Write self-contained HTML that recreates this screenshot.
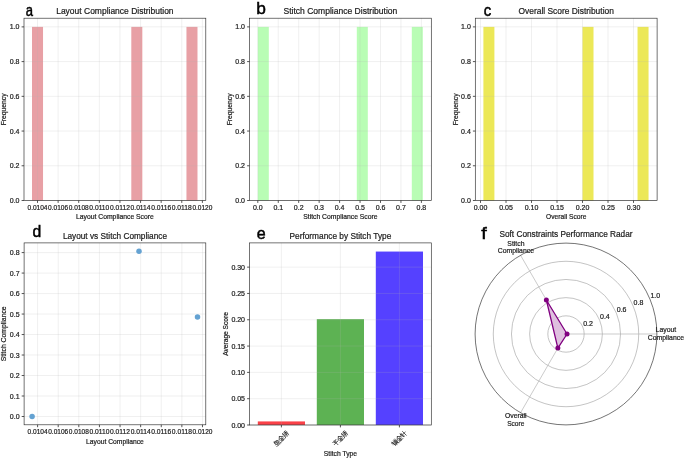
<!DOCTYPE html>
<html><head><meta charset="utf-8"><style>
html,body{margin:0;padding:0;background:#fff;width:685px;height:458px;overflow:hidden;}
svg{display:block;will-change:transform;font-family:"Liberation Sans", sans-serif;}
</style></head><body>
<svg width="685" height="458" viewBox="0 0 685 458" font-family='"Liberation Sans", sans-serif'><rect x="32" y="26.88" width="11.03" height="173.62" fill="#e8a0a5" />
<rect x="131.3" y="26.88" width="11.03" height="173.62" fill="#e8a0a5" />
<rect x="186.46" y="26.88" width="11.03" height="173.62" fill="#e8a0a5" />
<line x1="37.5" y1="18.2" x2="37.5" y2="200.5" stroke="#b0b0b0" stroke-width="0.9" stroke-opacity="0.22"/>
<line x1="58.11" y1="18.2" x2="58.11" y2="200.5" stroke="#b0b0b0" stroke-width="0.9" stroke-opacity="0.22"/>
<line x1="78.72" y1="18.2" x2="78.72" y2="200.5" stroke="#b0b0b0" stroke-width="0.9" stroke-opacity="0.22"/>
<line x1="99.33" y1="18.2" x2="99.33" y2="200.5" stroke="#b0b0b0" stroke-width="0.9" stroke-opacity="0.22"/>
<line x1="119.94" y1="18.2" x2="119.94" y2="200.5" stroke="#b0b0b0" stroke-width="0.9" stroke-opacity="0.22"/>
<line x1="140.55" y1="18.2" x2="140.55" y2="200.5" stroke="#b0b0b0" stroke-width="0.9" stroke-opacity="0.22"/>
<line x1="161.16" y1="18.2" x2="161.16" y2="200.5" stroke="#b0b0b0" stroke-width="0.9" stroke-opacity="0.22"/>
<line x1="181.77" y1="18.2" x2="181.77" y2="200.5" stroke="#b0b0b0" stroke-width="0.9" stroke-opacity="0.22"/>
<line x1="202.38" y1="18.2" x2="202.38" y2="200.5" stroke="#b0b0b0" stroke-width="0.9" stroke-opacity="0.22"/>
<line x1="24" y1="200.5" x2="205.8" y2="200.5" stroke="#b0b0b0" stroke-width="0.9" stroke-opacity="0.22"/>
<line x1="24" y1="165.78" x2="205.8" y2="165.78" stroke="#b0b0b0" stroke-width="0.9" stroke-opacity="0.22"/>
<line x1="24" y1="131.05" x2="205.8" y2="131.05" stroke="#b0b0b0" stroke-width="0.9" stroke-opacity="0.22"/>
<line x1="24" y1="96.33" x2="205.8" y2="96.33" stroke="#b0b0b0" stroke-width="0.9" stroke-opacity="0.22"/>
<line x1="24" y1="61.6" x2="205.8" y2="61.6" stroke="#b0b0b0" stroke-width="0.9" stroke-opacity="0.22"/>
<line x1="24" y1="26.88" x2="205.8" y2="26.88" stroke="#b0b0b0" stroke-width="0.9" stroke-opacity="0.22"/>
<rect x="24" y="18.2" width="181.8" height="182.3" fill="none" stroke="#2a2a2a" stroke-width="0.65"/>
<line x1="37.5" y1="200.5" x2="37.5" y2="202.9" stroke="#2a2a2a" stroke-width="0.8" />
<text x="37.5" y="209.7" font-size="7.0" text-anchor="middle" fill="#1a1a1a" stroke="#1a1a1a" stroke-width="0.2" textLength="20" lengthAdjust="spacingAndGlyphs" >0.0104</text>
<line x1="58.11" y1="200.5" x2="58.11" y2="202.9" stroke="#2a2a2a" stroke-width="0.8" />
<text x="58.11" y="209.7" font-size="7.0" text-anchor="middle" fill="#1a1a1a" stroke="#1a1a1a" stroke-width="0.2" textLength="20" lengthAdjust="spacingAndGlyphs" >0.0106</text>
<line x1="78.72" y1="200.5" x2="78.72" y2="202.9" stroke="#2a2a2a" stroke-width="0.8" />
<text x="78.72" y="209.7" font-size="7.0" text-anchor="middle" fill="#1a1a1a" stroke="#1a1a1a" stroke-width="0.2" textLength="20" lengthAdjust="spacingAndGlyphs" >0.0108</text>
<line x1="99.33" y1="200.5" x2="99.33" y2="202.9" stroke="#2a2a2a" stroke-width="0.8" />
<text x="99.33" y="209.7" font-size="7.0" text-anchor="middle" fill="#1a1a1a" stroke="#1a1a1a" stroke-width="0.2" textLength="20" lengthAdjust="spacingAndGlyphs" >0.0110</text>
<line x1="119.94" y1="200.5" x2="119.94" y2="202.9" stroke="#2a2a2a" stroke-width="0.8" />
<text x="119.94" y="209.7" font-size="7.0" text-anchor="middle" fill="#1a1a1a" stroke="#1a1a1a" stroke-width="0.2" textLength="20" lengthAdjust="spacingAndGlyphs" >0.0112</text>
<line x1="140.55" y1="200.5" x2="140.55" y2="202.9" stroke="#2a2a2a" stroke-width="0.8" />
<text x="140.55" y="209.7" font-size="7.0" text-anchor="middle" fill="#1a1a1a" stroke="#1a1a1a" stroke-width="0.2" textLength="20" lengthAdjust="spacingAndGlyphs" >0.0114</text>
<line x1="161.16" y1="200.5" x2="161.16" y2="202.9" stroke="#2a2a2a" stroke-width="0.8" />
<text x="161.16" y="209.7" font-size="7.0" text-anchor="middle" fill="#1a1a1a" stroke="#1a1a1a" stroke-width="0.2" textLength="20" lengthAdjust="spacingAndGlyphs" >0.0116</text>
<line x1="181.77" y1="200.5" x2="181.77" y2="202.9" stroke="#2a2a2a" stroke-width="0.8" />
<text x="181.77" y="209.7" font-size="7.0" text-anchor="middle" fill="#1a1a1a" stroke="#1a1a1a" stroke-width="0.2" textLength="20" lengthAdjust="spacingAndGlyphs" >0.0118</text>
<line x1="202.38" y1="200.5" x2="202.38" y2="202.9" stroke="#2a2a2a" stroke-width="0.8" />
<text x="202.38" y="209.7" font-size="7.0" text-anchor="middle" fill="#1a1a1a" stroke="#1a1a1a" stroke-width="0.2" textLength="20" lengthAdjust="spacingAndGlyphs" >0.0120</text>
<line x1="21.6" y1="200.5" x2="24" y2="200.5" stroke="#2a2a2a" stroke-width="0.8" />
<text x="19.5" y="203" font-size="7.0" text-anchor="end" fill="#1a1a1a" stroke="#1a1a1a" stroke-width="0.2" >0.0</text>
<line x1="21.6" y1="165.78" x2="24" y2="165.78" stroke="#2a2a2a" stroke-width="0.8" />
<text x="19.5" y="168.28" font-size="7.0" text-anchor="end" fill="#1a1a1a" stroke="#1a1a1a" stroke-width="0.2" >0.2</text>
<line x1="21.6" y1="131.05" x2="24" y2="131.05" stroke="#2a2a2a" stroke-width="0.8" />
<text x="19.5" y="133.55" font-size="7.0" text-anchor="end" fill="#1a1a1a" stroke="#1a1a1a" stroke-width="0.2" >0.4</text>
<line x1="21.6" y1="96.33" x2="24" y2="96.33" stroke="#2a2a2a" stroke-width="0.8" />
<text x="19.5" y="98.83" font-size="7.0" text-anchor="end" fill="#1a1a1a" stroke="#1a1a1a" stroke-width="0.2" >0.6</text>
<line x1="21.6" y1="61.6" x2="24" y2="61.6" stroke="#2a2a2a" stroke-width="0.8" />
<text x="19.5" y="64.1" font-size="7.0" text-anchor="end" fill="#1a1a1a" stroke="#1a1a1a" stroke-width="0.2" >0.8</text>
<line x1="21.6" y1="26.88" x2="24" y2="26.88" stroke="#2a2a2a" stroke-width="0.8" />
<text x="19.5" y="29.38" font-size="7.0" text-anchor="end" fill="#1a1a1a" stroke="#1a1a1a" stroke-width="0.2" >1.0</text>
<text transform="translate(6.2,109.35) rotate(-90)" x="0" y="0" font-size="6.85" text-anchor="middle" fill="#1a1a1a" stroke="#1a1a1a" stroke-width="0.2" textLength="32" lengthAdjust="spacingAndGlyphs">Frequency</text>
<text x="114.9" y="13.7" font-size="8.4" text-anchor="middle" fill="#1a1a1a" stroke="#1a1a1a" stroke-width="0.2" textLength="117.4" lengthAdjust="spacingAndGlyphs" >Layout Compliance Distribution</text>
<text x="114.9" y="219.3" font-size="6.85" text-anchor="middle" fill="#1a1a1a" stroke="#1a1a1a" stroke-width="0.2" textLength="77.9" lengthAdjust="spacingAndGlyphs" >Layout Compliance Score</text>
<text transform="translate(25.63,15.8) scale(0.767,1)" font-size="17" fill="#000" stroke="#000" stroke-width="0.5">a</text>
<rect x="257.8" y="26.88" width="11" height="173.62" fill="#b9fdb5" />
<rect x="356.8" y="26.88" width="11" height="173.62" fill="#b9fdb5" />
<rect x="411.8" y="26.88" width="11" height="173.62" fill="#b9fdb5" />
<line x1="257.8" y1="18.2" x2="257.8" y2="200.5" stroke="#b0b0b0" stroke-width="0.9" stroke-opacity="0.22"/>
<line x1="278.25" y1="18.2" x2="278.25" y2="200.5" stroke="#b0b0b0" stroke-width="0.9" stroke-opacity="0.22"/>
<line x1="298.7" y1="18.2" x2="298.7" y2="200.5" stroke="#b0b0b0" stroke-width="0.9" stroke-opacity="0.22"/>
<line x1="319.15" y1="18.2" x2="319.15" y2="200.5" stroke="#b0b0b0" stroke-width="0.9" stroke-opacity="0.22"/>
<line x1="339.6" y1="18.2" x2="339.6" y2="200.5" stroke="#b0b0b0" stroke-width="0.9" stroke-opacity="0.22"/>
<line x1="360.05" y1="18.2" x2="360.05" y2="200.5" stroke="#b0b0b0" stroke-width="0.9" stroke-opacity="0.22"/>
<line x1="380.5" y1="18.2" x2="380.5" y2="200.5" stroke="#b0b0b0" stroke-width="0.9" stroke-opacity="0.22"/>
<line x1="400.95" y1="18.2" x2="400.95" y2="200.5" stroke="#b0b0b0" stroke-width="0.9" stroke-opacity="0.22"/>
<line x1="421.4" y1="18.2" x2="421.4" y2="200.5" stroke="#b0b0b0" stroke-width="0.9" stroke-opacity="0.22"/>
<line x1="249.5" y1="200.5" x2="431.3" y2="200.5" stroke="#b0b0b0" stroke-width="0.9" stroke-opacity="0.22"/>
<line x1="249.5" y1="165.78" x2="431.3" y2="165.78" stroke="#b0b0b0" stroke-width="0.9" stroke-opacity="0.22"/>
<line x1="249.5" y1="131.05" x2="431.3" y2="131.05" stroke="#b0b0b0" stroke-width="0.9" stroke-opacity="0.22"/>
<line x1="249.5" y1="96.33" x2="431.3" y2="96.33" stroke="#b0b0b0" stroke-width="0.9" stroke-opacity="0.22"/>
<line x1="249.5" y1="61.6" x2="431.3" y2="61.6" stroke="#b0b0b0" stroke-width="0.9" stroke-opacity="0.22"/>
<line x1="249.5" y1="26.88" x2="431.3" y2="26.88" stroke="#b0b0b0" stroke-width="0.9" stroke-opacity="0.22"/>
<rect x="249.5" y="18.2" width="181.8" height="182.3" fill="none" stroke="#2a2a2a" stroke-width="0.65"/>
<line x1="257.8" y1="200.5" x2="257.8" y2="202.9" stroke="#2a2a2a" stroke-width="0.8" />
<text x="257.8" y="209.7" font-size="7.0" text-anchor="middle" fill="#1a1a1a" stroke="#1a1a1a" stroke-width="0.2" >0.0</text>
<line x1="278.25" y1="200.5" x2="278.25" y2="202.9" stroke="#2a2a2a" stroke-width="0.8" />
<text x="278.25" y="209.7" font-size="7.0" text-anchor="middle" fill="#1a1a1a" stroke="#1a1a1a" stroke-width="0.2" >0.1</text>
<line x1="298.7" y1="200.5" x2="298.7" y2="202.9" stroke="#2a2a2a" stroke-width="0.8" />
<text x="298.7" y="209.7" font-size="7.0" text-anchor="middle" fill="#1a1a1a" stroke="#1a1a1a" stroke-width="0.2" >0.2</text>
<line x1="319.15" y1="200.5" x2="319.15" y2="202.9" stroke="#2a2a2a" stroke-width="0.8" />
<text x="319.15" y="209.7" font-size="7.0" text-anchor="middle" fill="#1a1a1a" stroke="#1a1a1a" stroke-width="0.2" >0.3</text>
<line x1="339.6" y1="200.5" x2="339.6" y2="202.9" stroke="#2a2a2a" stroke-width="0.8" />
<text x="339.6" y="209.7" font-size="7.0" text-anchor="middle" fill="#1a1a1a" stroke="#1a1a1a" stroke-width="0.2" >0.4</text>
<line x1="360.05" y1="200.5" x2="360.05" y2="202.9" stroke="#2a2a2a" stroke-width="0.8" />
<text x="360.05" y="209.7" font-size="7.0" text-anchor="middle" fill="#1a1a1a" stroke="#1a1a1a" stroke-width="0.2" >0.5</text>
<line x1="380.5" y1="200.5" x2="380.5" y2="202.9" stroke="#2a2a2a" stroke-width="0.8" />
<text x="380.5" y="209.7" font-size="7.0" text-anchor="middle" fill="#1a1a1a" stroke="#1a1a1a" stroke-width="0.2" >0.6</text>
<line x1="400.95" y1="200.5" x2="400.95" y2="202.9" stroke="#2a2a2a" stroke-width="0.8" />
<text x="400.95" y="209.7" font-size="7.0" text-anchor="middle" fill="#1a1a1a" stroke="#1a1a1a" stroke-width="0.2" >0.7</text>
<line x1="421.4" y1="200.5" x2="421.4" y2="202.9" stroke="#2a2a2a" stroke-width="0.8" />
<text x="421.4" y="209.7" font-size="7.0" text-anchor="middle" fill="#1a1a1a" stroke="#1a1a1a" stroke-width="0.2" >0.8</text>
<line x1="247.1" y1="200.5" x2="249.5" y2="200.5" stroke="#2a2a2a" stroke-width="0.8" />
<text x="245" y="203" font-size="7.0" text-anchor="end" fill="#1a1a1a" stroke="#1a1a1a" stroke-width="0.2" >0.0</text>
<line x1="247.1" y1="165.78" x2="249.5" y2="165.78" stroke="#2a2a2a" stroke-width="0.8" />
<text x="245" y="168.28" font-size="7.0" text-anchor="end" fill="#1a1a1a" stroke="#1a1a1a" stroke-width="0.2" >0.2</text>
<line x1="247.1" y1="131.05" x2="249.5" y2="131.05" stroke="#2a2a2a" stroke-width="0.8" />
<text x="245" y="133.55" font-size="7.0" text-anchor="end" fill="#1a1a1a" stroke="#1a1a1a" stroke-width="0.2" >0.4</text>
<line x1="247.1" y1="96.33" x2="249.5" y2="96.33" stroke="#2a2a2a" stroke-width="0.8" />
<text x="245" y="98.83" font-size="7.0" text-anchor="end" fill="#1a1a1a" stroke="#1a1a1a" stroke-width="0.2" >0.6</text>
<line x1="247.1" y1="61.6" x2="249.5" y2="61.6" stroke="#2a2a2a" stroke-width="0.8" />
<text x="245" y="64.1" font-size="7.0" text-anchor="end" fill="#1a1a1a" stroke="#1a1a1a" stroke-width="0.2" >0.8</text>
<line x1="247.1" y1="26.88" x2="249.5" y2="26.88" stroke="#2a2a2a" stroke-width="0.8" />
<text x="245" y="29.38" font-size="7.0" text-anchor="end" fill="#1a1a1a" stroke="#1a1a1a" stroke-width="0.2" >1.0</text>
<text transform="translate(231.7,109.35) rotate(-90)" x="0" y="0" font-size="6.85" text-anchor="middle" fill="#1a1a1a" stroke="#1a1a1a" stroke-width="0.2" textLength="32" lengthAdjust="spacingAndGlyphs">Frequency</text>
<text x="340.4" y="13.7" font-size="8.4" text-anchor="middle" fill="#1a1a1a" stroke="#1a1a1a" stroke-width="0.2" textLength="113.9" lengthAdjust="spacingAndGlyphs" >Stitch Compliance Distribution</text>
<text x="340.4" y="219.3" font-size="6.85" text-anchor="middle" fill="#1a1a1a" stroke="#1a1a1a" stroke-width="0.2" textLength="74.3" lengthAdjust="spacingAndGlyphs" >Stitch Compliance Score</text>
<text transform="translate(256.36,13.9) scale(1.017,1)" font-size="17" fill="#000" stroke="#000" stroke-width="0.5">b</text>
<rect x="483.4" y="26.88" width="11.01" height="173.62" fill="#ece857" />
<rect x="582.49" y="26.88" width="11.01" height="173.62" fill="#ece857" />
<rect x="637.54" y="26.88" width="11.01" height="173.62" fill="#ece857" />
<line x1="480.5" y1="18.2" x2="480.5" y2="200.5" stroke="#b0b0b0" stroke-width="0.9" stroke-opacity="0.22"/>
<line x1="506" y1="18.2" x2="506" y2="200.5" stroke="#b0b0b0" stroke-width="0.9" stroke-opacity="0.22"/>
<line x1="531.5" y1="18.2" x2="531.5" y2="200.5" stroke="#b0b0b0" stroke-width="0.9" stroke-opacity="0.22"/>
<line x1="557" y1="18.2" x2="557" y2="200.5" stroke="#b0b0b0" stroke-width="0.9" stroke-opacity="0.22"/>
<line x1="582.5" y1="18.2" x2="582.5" y2="200.5" stroke="#b0b0b0" stroke-width="0.9" stroke-opacity="0.22"/>
<line x1="608" y1="18.2" x2="608" y2="200.5" stroke="#b0b0b0" stroke-width="0.9" stroke-opacity="0.22"/>
<line x1="633.5" y1="18.2" x2="633.5" y2="200.5" stroke="#b0b0b0" stroke-width="0.9" stroke-opacity="0.22"/>
<line x1="475.3" y1="200.5" x2="657.1" y2="200.5" stroke="#b0b0b0" stroke-width="0.9" stroke-opacity="0.22"/>
<line x1="475.3" y1="165.78" x2="657.1" y2="165.78" stroke="#b0b0b0" stroke-width="0.9" stroke-opacity="0.22"/>
<line x1="475.3" y1="131.05" x2="657.1" y2="131.05" stroke="#b0b0b0" stroke-width="0.9" stroke-opacity="0.22"/>
<line x1="475.3" y1="96.33" x2="657.1" y2="96.33" stroke="#b0b0b0" stroke-width="0.9" stroke-opacity="0.22"/>
<line x1="475.3" y1="61.6" x2="657.1" y2="61.6" stroke="#b0b0b0" stroke-width="0.9" stroke-opacity="0.22"/>
<line x1="475.3" y1="26.88" x2="657.1" y2="26.88" stroke="#b0b0b0" stroke-width="0.9" stroke-opacity="0.22"/>
<rect x="475.3" y="18.2" width="181.8" height="182.3" fill="none" stroke="#2a2a2a" stroke-width="0.65"/>
<line x1="480.5" y1="200.5" x2="480.5" y2="202.9" stroke="#2a2a2a" stroke-width="0.8" />
<text x="480.5" y="209.7" font-size="7.0" text-anchor="middle" fill="#1a1a1a" stroke="#1a1a1a" stroke-width="0.2" >0.00</text>
<line x1="506" y1="200.5" x2="506" y2="202.9" stroke="#2a2a2a" stroke-width="0.8" />
<text x="506" y="209.7" font-size="7.0" text-anchor="middle" fill="#1a1a1a" stroke="#1a1a1a" stroke-width="0.2" >0.05</text>
<line x1="531.5" y1="200.5" x2="531.5" y2="202.9" stroke="#2a2a2a" stroke-width="0.8" />
<text x="531.5" y="209.7" font-size="7.0" text-anchor="middle" fill="#1a1a1a" stroke="#1a1a1a" stroke-width="0.2" >0.10</text>
<line x1="557" y1="200.5" x2="557" y2="202.9" stroke="#2a2a2a" stroke-width="0.8" />
<text x="557" y="209.7" font-size="7.0" text-anchor="middle" fill="#1a1a1a" stroke="#1a1a1a" stroke-width="0.2" >0.15</text>
<line x1="582.5" y1="200.5" x2="582.5" y2="202.9" stroke="#2a2a2a" stroke-width="0.8" />
<text x="582.5" y="209.7" font-size="7.0" text-anchor="middle" fill="#1a1a1a" stroke="#1a1a1a" stroke-width="0.2" >0.20</text>
<line x1="608" y1="200.5" x2="608" y2="202.9" stroke="#2a2a2a" stroke-width="0.8" />
<text x="608" y="209.7" font-size="7.0" text-anchor="middle" fill="#1a1a1a" stroke="#1a1a1a" stroke-width="0.2" >0.25</text>
<line x1="633.5" y1="200.5" x2="633.5" y2="202.9" stroke="#2a2a2a" stroke-width="0.8" />
<text x="633.5" y="209.7" font-size="7.0" text-anchor="middle" fill="#1a1a1a" stroke="#1a1a1a" stroke-width="0.2" >0.30</text>
<line x1="472.9" y1="200.5" x2="475.3" y2="200.5" stroke="#2a2a2a" stroke-width="0.8" />
<text x="470.8" y="203" font-size="7.0" text-anchor="end" fill="#1a1a1a" stroke="#1a1a1a" stroke-width="0.2" >0.0</text>
<line x1="472.9" y1="165.78" x2="475.3" y2="165.78" stroke="#2a2a2a" stroke-width="0.8" />
<text x="470.8" y="168.28" font-size="7.0" text-anchor="end" fill="#1a1a1a" stroke="#1a1a1a" stroke-width="0.2" >0.2</text>
<line x1="472.9" y1="131.05" x2="475.3" y2="131.05" stroke="#2a2a2a" stroke-width="0.8" />
<text x="470.8" y="133.55" font-size="7.0" text-anchor="end" fill="#1a1a1a" stroke="#1a1a1a" stroke-width="0.2" >0.4</text>
<line x1="472.9" y1="96.33" x2="475.3" y2="96.33" stroke="#2a2a2a" stroke-width="0.8" />
<text x="470.8" y="98.83" font-size="7.0" text-anchor="end" fill="#1a1a1a" stroke="#1a1a1a" stroke-width="0.2" >0.6</text>
<line x1="472.9" y1="61.6" x2="475.3" y2="61.6" stroke="#2a2a2a" stroke-width="0.8" />
<text x="470.8" y="64.1" font-size="7.0" text-anchor="end" fill="#1a1a1a" stroke="#1a1a1a" stroke-width="0.2" >0.8</text>
<line x1="472.9" y1="26.88" x2="475.3" y2="26.88" stroke="#2a2a2a" stroke-width="0.8" />
<text x="470.8" y="29.38" font-size="7.0" text-anchor="end" fill="#1a1a1a" stroke="#1a1a1a" stroke-width="0.2" >1.0</text>
<text transform="translate(457.5,109.35) rotate(-90)" x="0" y="0" font-size="6.85" text-anchor="middle" fill="#1a1a1a" stroke="#1a1a1a" stroke-width="0.2" textLength="32" lengthAdjust="spacingAndGlyphs">Frequency</text>
<text x="566.2" y="13.7" font-size="8.4" text-anchor="middle" fill="#1a1a1a" stroke="#1a1a1a" stroke-width="0.2" textLength="95.3" lengthAdjust="spacingAndGlyphs" >Overall Score Distribution</text>
<text x="566.2" y="219.3" font-size="6.85" text-anchor="middle" fill="#1a1a1a" stroke="#1a1a1a" stroke-width="0.2" textLength="40.3" lengthAdjust="spacingAndGlyphs" >Overall Score</text>
<text transform="translate(483.65,15.8) scale(0.881,1)" font-size="17" fill="#000" stroke="#000" stroke-width="0.5">c</text>
<line x1="37.6" y1="242.9" x2="37.6" y2="424.8" stroke="#b0b0b0" stroke-width="0.9" stroke-opacity="0.22"/>
<line x1="58.21" y1="242.9" x2="58.21" y2="424.8" stroke="#b0b0b0" stroke-width="0.9" stroke-opacity="0.22"/>
<line x1="78.82" y1="242.9" x2="78.82" y2="424.8" stroke="#b0b0b0" stroke-width="0.9" stroke-opacity="0.22"/>
<line x1="99.43" y1="242.9" x2="99.43" y2="424.8" stroke="#b0b0b0" stroke-width="0.9" stroke-opacity="0.22"/>
<line x1="120.04" y1="242.9" x2="120.04" y2="424.8" stroke="#b0b0b0" stroke-width="0.9" stroke-opacity="0.22"/>
<line x1="140.65" y1="242.9" x2="140.65" y2="424.8" stroke="#b0b0b0" stroke-width="0.9" stroke-opacity="0.22"/>
<line x1="161.26" y1="242.9" x2="161.26" y2="424.8" stroke="#b0b0b0" stroke-width="0.9" stroke-opacity="0.22"/>
<line x1="181.87" y1="242.9" x2="181.87" y2="424.8" stroke="#b0b0b0" stroke-width="0.9" stroke-opacity="0.22"/>
<line x1="202.48" y1="242.9" x2="202.48" y2="424.8" stroke="#b0b0b0" stroke-width="0.9" stroke-opacity="0.22"/>
<line x1="24.1" y1="416.5" x2="205.8" y2="416.5" stroke="#b0b0b0" stroke-width="0.9" stroke-opacity="0.22"/>
<line x1="24.1" y1="396.01" x2="205.8" y2="396.01" stroke="#b0b0b0" stroke-width="0.9" stroke-opacity="0.22"/>
<line x1="24.1" y1="375.52" x2="205.8" y2="375.52" stroke="#b0b0b0" stroke-width="0.9" stroke-opacity="0.22"/>
<line x1="24.1" y1="355.03" x2="205.8" y2="355.03" stroke="#b0b0b0" stroke-width="0.9" stroke-opacity="0.22"/>
<line x1="24.1" y1="334.54" x2="205.8" y2="334.54" stroke="#b0b0b0" stroke-width="0.9" stroke-opacity="0.22"/>
<line x1="24.1" y1="314.05" x2="205.8" y2="314.05" stroke="#b0b0b0" stroke-width="0.9" stroke-opacity="0.22"/>
<line x1="24.1" y1="293.56" x2="205.8" y2="293.56" stroke="#b0b0b0" stroke-width="0.9" stroke-opacity="0.22"/>
<line x1="24.1" y1="273.07" x2="205.8" y2="273.07" stroke="#b0b0b0" stroke-width="0.9" stroke-opacity="0.22"/>
<line x1="24.1" y1="252.58" x2="205.8" y2="252.58" stroke="#b0b0b0" stroke-width="0.9" stroke-opacity="0.22"/>
<circle cx="32.1" cy="416.5" r="2.75" fill="#64a2d2"/>
<circle cx="139" cy="251.15" r="2.75" fill="#64a2d2"/>
<circle cx="197.5" cy="317.02" r="2.75" fill="#64a2d2"/>
<rect x="24.1" y="242.9" width="181.7" height="181.9" fill="none" stroke="#2a2a2a" stroke-width="0.65"/>
<line x1="37.6" y1="424.8" x2="37.6" y2="427.2" stroke="#2a2a2a" stroke-width="0.8" />
<text x="37.6" y="434" font-size="7.0" text-anchor="middle" fill="#1a1a1a" stroke="#1a1a1a" stroke-width="0.2" textLength="20" lengthAdjust="spacingAndGlyphs" >0.0104</text>
<line x1="58.21" y1="424.8" x2="58.21" y2="427.2" stroke="#2a2a2a" stroke-width="0.8" />
<text x="58.21" y="434" font-size="7.0" text-anchor="middle" fill="#1a1a1a" stroke="#1a1a1a" stroke-width="0.2" textLength="20" lengthAdjust="spacingAndGlyphs" >0.0106</text>
<line x1="78.82" y1="424.8" x2="78.82" y2="427.2" stroke="#2a2a2a" stroke-width="0.8" />
<text x="78.82" y="434" font-size="7.0" text-anchor="middle" fill="#1a1a1a" stroke="#1a1a1a" stroke-width="0.2" textLength="20" lengthAdjust="spacingAndGlyphs" >0.0108</text>
<line x1="99.43" y1="424.8" x2="99.43" y2="427.2" stroke="#2a2a2a" stroke-width="0.8" />
<text x="99.43" y="434" font-size="7.0" text-anchor="middle" fill="#1a1a1a" stroke="#1a1a1a" stroke-width="0.2" textLength="20" lengthAdjust="spacingAndGlyphs" >0.0110</text>
<line x1="120.04" y1="424.8" x2="120.04" y2="427.2" stroke="#2a2a2a" stroke-width="0.8" />
<text x="120.04" y="434" font-size="7.0" text-anchor="middle" fill="#1a1a1a" stroke="#1a1a1a" stroke-width="0.2" textLength="20" lengthAdjust="spacingAndGlyphs" >0.0112</text>
<line x1="140.65" y1="424.8" x2="140.65" y2="427.2" stroke="#2a2a2a" stroke-width="0.8" />
<text x="140.65" y="434" font-size="7.0" text-anchor="middle" fill="#1a1a1a" stroke="#1a1a1a" stroke-width="0.2" textLength="20" lengthAdjust="spacingAndGlyphs" >0.0114</text>
<line x1="161.26" y1="424.8" x2="161.26" y2="427.2" stroke="#2a2a2a" stroke-width="0.8" />
<text x="161.26" y="434" font-size="7.0" text-anchor="middle" fill="#1a1a1a" stroke="#1a1a1a" stroke-width="0.2" textLength="20" lengthAdjust="spacingAndGlyphs" >0.0116</text>
<line x1="181.87" y1="424.8" x2="181.87" y2="427.2" stroke="#2a2a2a" stroke-width="0.8" />
<text x="181.87" y="434" font-size="7.0" text-anchor="middle" fill="#1a1a1a" stroke="#1a1a1a" stroke-width="0.2" textLength="20" lengthAdjust="spacingAndGlyphs" >0.0118</text>
<line x1="202.48" y1="424.8" x2="202.48" y2="427.2" stroke="#2a2a2a" stroke-width="0.8" />
<text x="202.48" y="434" font-size="7.0" text-anchor="middle" fill="#1a1a1a" stroke="#1a1a1a" stroke-width="0.2" textLength="20" lengthAdjust="spacingAndGlyphs" >0.0120</text>
<line x1="21.7" y1="416.5" x2="24.1" y2="416.5" stroke="#2a2a2a" stroke-width="0.8" />
<text x="19.6" y="419" font-size="7.0" text-anchor="end" fill="#1a1a1a" stroke="#1a1a1a" stroke-width="0.2" >0.0</text>
<line x1="21.7" y1="396.01" x2="24.1" y2="396.01" stroke="#2a2a2a" stroke-width="0.8" />
<text x="19.6" y="398.51" font-size="7.0" text-anchor="end" fill="#1a1a1a" stroke="#1a1a1a" stroke-width="0.2" >0.1</text>
<line x1="21.7" y1="375.52" x2="24.1" y2="375.52" stroke="#2a2a2a" stroke-width="0.8" />
<text x="19.6" y="378.02" font-size="7.0" text-anchor="end" fill="#1a1a1a" stroke="#1a1a1a" stroke-width="0.2" >0.2</text>
<line x1="21.7" y1="355.03" x2="24.1" y2="355.03" stroke="#2a2a2a" stroke-width="0.8" />
<text x="19.6" y="357.53" font-size="7.0" text-anchor="end" fill="#1a1a1a" stroke="#1a1a1a" stroke-width="0.2" >0.3</text>
<line x1="21.7" y1="334.54" x2="24.1" y2="334.54" stroke="#2a2a2a" stroke-width="0.8" />
<text x="19.6" y="337.04" font-size="7.0" text-anchor="end" fill="#1a1a1a" stroke="#1a1a1a" stroke-width="0.2" >0.4</text>
<line x1="21.7" y1="314.05" x2="24.1" y2="314.05" stroke="#2a2a2a" stroke-width="0.8" />
<text x="19.6" y="316.55" font-size="7.0" text-anchor="end" fill="#1a1a1a" stroke="#1a1a1a" stroke-width="0.2" >0.5</text>
<line x1="21.7" y1="293.56" x2="24.1" y2="293.56" stroke="#2a2a2a" stroke-width="0.8" />
<text x="19.6" y="296.06" font-size="7.0" text-anchor="end" fill="#1a1a1a" stroke="#1a1a1a" stroke-width="0.2" >0.6</text>
<line x1="21.7" y1="273.07" x2="24.1" y2="273.07" stroke="#2a2a2a" stroke-width="0.8" />
<text x="19.6" y="275.57" font-size="7.0" text-anchor="end" fill="#1a1a1a" stroke="#1a1a1a" stroke-width="0.2" >0.7</text>
<line x1="21.7" y1="252.58" x2="24.1" y2="252.58" stroke="#2a2a2a" stroke-width="0.8" />
<text x="19.6" y="255.08" font-size="7.0" text-anchor="end" fill="#1a1a1a" stroke="#1a1a1a" stroke-width="0.2" >0.8</text>
<text transform="translate(6.2,333.85) rotate(-90)" x="0" y="0" font-size="6.85" text-anchor="middle" fill="#1a1a1a" stroke="#1a1a1a" stroke-width="0.2" textLength="55" lengthAdjust="spacingAndGlyphs">Stitch Compliance</text>
<text x="114.95" y="238.5" font-size="8.4" text-anchor="middle" fill="#1a1a1a" stroke="#1a1a1a" stroke-width="0.2" textLength="104.1" lengthAdjust="spacingAndGlyphs" >Layout vs Stitch Compliance</text>
<text x="114.95" y="444.2" font-size="6.85" text-anchor="middle" fill="#1a1a1a" stroke="#1a1a1a" stroke-width="0.2" textLength="57.7" lengthAdjust="spacingAndGlyphs" >Layout Compliance</text>
<text transform="translate(32.42,236.8) scale(0.926,1)" font-size="17" fill="#000" stroke="#000" stroke-width="0.5">d</text>
<rect x="257.8" y="421.42" width="47.2" height="3.58" fill="#fa4148" />
<rect x="316.8" y="319.13" width="47.2" height="105.87" fill="#5db253" />
<rect x="375.8" y="251.56" width="47.2" height="173.44" fill="#5541ff" />
<line x1="281.4" y1="242.9" x2="281.4" y2="425" stroke="#b0b0b0" stroke-width="0.9" stroke-opacity="0.22"/>
<line x1="340.4" y1="242.9" x2="340.4" y2="425" stroke="#b0b0b0" stroke-width="0.9" stroke-opacity="0.22"/>
<line x1="399.4" y1="242.9" x2="399.4" y2="425" stroke="#b0b0b0" stroke-width="0.9" stroke-opacity="0.22"/>
<line x1="249.5" y1="425" x2="431.3" y2="425" stroke="#b0b0b0" stroke-width="0.9" stroke-opacity="0.22"/>
<line x1="249.5" y1="398.69" x2="431.3" y2="398.69" stroke="#b0b0b0" stroke-width="0.9" stroke-opacity="0.22"/>
<line x1="249.5" y1="372.38" x2="431.3" y2="372.38" stroke="#b0b0b0" stroke-width="0.9" stroke-opacity="0.22"/>
<line x1="249.5" y1="346.07" x2="431.3" y2="346.07" stroke="#b0b0b0" stroke-width="0.9" stroke-opacity="0.22"/>
<line x1="249.5" y1="319.76" x2="431.3" y2="319.76" stroke="#b0b0b0" stroke-width="0.9" stroke-opacity="0.22"/>
<line x1="249.5" y1="293.45" x2="431.3" y2="293.45" stroke="#b0b0b0" stroke-width="0.9" stroke-opacity="0.22"/>
<line x1="249.5" y1="267.14" x2="431.3" y2="267.14" stroke="#b0b0b0" stroke-width="0.9" stroke-opacity="0.22"/>
<rect x="249.5" y="242.9" width="181.8" height="182.1" fill="none" stroke="#2a2a2a" stroke-width="0.65"/>
<line x1="281.4" y1="425" x2="281.4" y2="427.4" stroke="#2a2a2a" stroke-width="0.8" />
<line x1="340.4" y1="425" x2="340.4" y2="427.4" stroke="#2a2a2a" stroke-width="0.8" />
<line x1="399.4" y1="425" x2="399.4" y2="427.4" stroke="#2a2a2a" stroke-width="0.8" />
<line x1="247.1" y1="425" x2="249.5" y2="425" stroke="#2a2a2a" stroke-width="0.8" />
<text x="245" y="427.5" font-size="7.0" text-anchor="end" fill="#1a1a1a" stroke="#1a1a1a" stroke-width="0.2" >0.00</text>
<line x1="247.1" y1="398.69" x2="249.5" y2="398.69" stroke="#2a2a2a" stroke-width="0.8" />
<text x="245" y="401.19" font-size="7.0" text-anchor="end" fill="#1a1a1a" stroke="#1a1a1a" stroke-width="0.2" >0.05</text>
<line x1="247.1" y1="372.38" x2="249.5" y2="372.38" stroke="#2a2a2a" stroke-width="0.8" />
<text x="245" y="374.88" font-size="7.0" text-anchor="end" fill="#1a1a1a" stroke="#1a1a1a" stroke-width="0.2" >0.10</text>
<line x1="247.1" y1="346.07" x2="249.5" y2="346.07" stroke="#2a2a2a" stroke-width="0.8" />
<text x="245" y="348.57" font-size="7.0" text-anchor="end" fill="#1a1a1a" stroke="#1a1a1a" stroke-width="0.2" >0.15</text>
<line x1="247.1" y1="319.76" x2="249.5" y2="319.76" stroke="#2a2a2a" stroke-width="0.8" />
<text x="245" y="322.26" font-size="7.0" text-anchor="end" fill="#1a1a1a" stroke="#1a1a1a" stroke-width="0.2" >0.20</text>
<line x1="247.1" y1="293.45" x2="249.5" y2="293.45" stroke="#2a2a2a" stroke-width="0.8" />
<text x="245" y="295.95" font-size="7.0" text-anchor="end" fill="#1a1a1a" stroke="#1a1a1a" stroke-width="0.2" >0.25</text>
<line x1="247.1" y1="267.14" x2="249.5" y2="267.14" stroke="#2a2a2a" stroke-width="0.8" />
<text x="245" y="269.64" font-size="7.0" text-anchor="end" fill="#1a1a1a" stroke="#1a1a1a" stroke-width="0.2" >0.30</text>
<text transform="translate(227.7,333.95) rotate(-90)" x="0" y="0" font-size="6.85" text-anchor="middle" fill="#1a1a1a" stroke="#1a1a1a" stroke-width="0.2" textLength="43.8" lengthAdjust="spacingAndGlyphs">Average Score</text>
<text x="340.4" y="238.5" font-size="8.4" text-anchor="middle" fill="#1a1a1a" stroke="#1a1a1a" stroke-width="0.2" textLength="101.8" lengthAdjust="spacingAndGlyphs" >Performance by Stitch Type</text>
<text x="340.4" y="455.8" font-size="6.85" text-anchor="middle" fill="#1a1a1a" stroke="#1a1a1a" stroke-width="0.2" textLength="33.3" lengthAdjust="spacingAndGlyphs" >Stitch Type</text>
<text transform="translate(256.81,238.9) scale(0.943,1)" font-size="17" fill="#000" stroke="#000" stroke-width="0.5">e</text>
<g transform="translate(281.2,438.45) rotate(-45)"><path transform="translate(-8.9,-2.9) scale(0.58)" d="M3 0.3L2.2 1.3 M2.2 1.5H8V5.5 M2.2 1.5L1.2 5.5 M1.2 3.5H9.2 M4.5 2.3L5 3 M5 4L5.5 4.8 M1 6.5H9V9.5 M3.7 6.5V9.5 M6.3 6.5V9.5 M0 9.6H10" fill="none" stroke="#2a2a2a" stroke-width="1.25" stroke-linecap="round" stroke-linejoin="round"/><path transform="translate(-2.9,-2.9) scale(0.58)" d="M5 0.5L0.5 4.5 M5 0.5L9.5 4.5 M3 4.6H7 M2 6.5H8 M5 4.6V9.5 M3 7.5L3.7 8.8 M7 7.5L6.3 8.8 M0.5 9.5H9.5" fill="none" stroke="#2a2a2a" stroke-width="1.25" stroke-linecap="round" stroke-linejoin="round"/><path transform="translate(3.1,-2.9) scale(0.58)" d="M2.5 0.5L1 3L3 3.4L0.8 6.5L3.5 6 M0.8 9.2L3.5 8 M5 1.2L9 0.5 M4.5 2.8H9.5 M7 0.8V5 M7 2.8L4.6 5 M7 2.8L9.5 5 M5 6.2H9L8 9.6 M6.3 6.2L5 9.6" fill="none" stroke="#2a2a2a" stroke-width="1.25" stroke-linecap="round" stroke-linejoin="round"/></g>
<g transform="translate(340.2,438.45) rotate(-45)"><path transform="translate(-8.9,-2.9) scale(0.58)" d="M1 1H9 M3 2.3L4 4 M7 2.3L6 4 M0.5 5.3H9.5 M5 1V10" fill="none" stroke="#2a2a2a" stroke-width="1.25" stroke-linecap="round" stroke-linejoin="round"/><path transform="translate(-2.9,-2.9) scale(0.58)" d="M5 0.5L0.5 4.5 M5 0.5L9.5 4.5 M3 4.6H7 M2 6.5H8 M5 4.6V9.5 M3 7.5L3.7 8.8 M7 7.5L6.3 8.8 M0.5 9.5H9.5" fill="none" stroke="#2a2a2a" stroke-width="1.25" stroke-linecap="round" stroke-linejoin="round"/><path transform="translate(3.1,-2.9) scale(0.58)" d="M2.5 0.5L1 3L3 3.4L0.8 6.5L3.5 6 M0.8 9.2L3.5 8 M5 1.2L9 0.5 M4.5 2.8H9.5 M7 0.8V5 M7 2.8L4.6 5 M7 2.8L9.5 5 M5 6.2H9L8 9.6 M6.3 6.2L5 9.6" fill="none" stroke="#2a2a2a" stroke-width="1.25" stroke-linecap="round" stroke-linejoin="round"/></g>
<g transform="translate(399.2,438.45) rotate(-45)"><path transform="translate(-8.9,-2.9) scale(0.58)" d="M1.6 0.4L0.5 3 M1 2H3.6 M1 4.1H3.6 M0.8 6.2H3.6 M2.2 2V9.1L3.7 8 M5 0.6L5.6 2 M7.2 0.3V2.5 M9.4 0.6L8.8 2 M5 3.2H9.4V7.6H5Z M5 5.4H9.4 M7.2 3.2V7.6 M6.5 7.6L4.8 9.8 M8 7.6L9.8 9.8" fill="none" stroke="#2a2a2a" stroke-width="1.25" stroke-linecap="round" stroke-linejoin="round"/><path transform="translate(-2.9,-2.9) scale(0.58)" d="M5 0.5L0.5 4.5 M5 0.5L9.5 4.5 M3 4.6H7 M2 6.5H8 M5 4.6V9.5 M3 7.5L3.7 8.8 M7 7.5L6.3 8.8 M0.5 9.5H9.5" fill="none" stroke="#2a2a2a" stroke-width="1.25" stroke-linecap="round" stroke-linejoin="round"/><path transform="translate(3.1,-2.9) scale(0.58)" d="M1.6 0.4L0.5 3 M1 2H3.6 M1 4.1H3.6 M0.8 6.2H3.6 M2.2 2V9.1L3.7 8 M4.5 4.6H9.8 M7.2 0.5V9.8" fill="none" stroke="#2a2a2a" stroke-width="1.25" stroke-linecap="round" stroke-linejoin="round"/></g>
<circle cx="566.0" cy="334.0" r="18.18" fill="none" stroke="#9c9c9c" stroke-width="0.6"/>
<circle cx="566.0" cy="334.0" r="36.36" fill="none" stroke="#9c9c9c" stroke-width="0.6"/>
<circle cx="566.0" cy="334.0" r="54.54" fill="none" stroke="#9c9c9c" stroke-width="0.6"/>
<circle cx="566.0" cy="334.0" r="72.72" fill="none" stroke="#9c9c9c" stroke-width="0.6"/>
<line x1="566" y1="334" x2="656.9" y2="334" stroke="#b4b4b4" stroke-width="0.7" />
<line x1="566" y1="334" x2="520.55" y2="255.28" stroke="#b4b4b4" stroke-width="0.7" />
<line x1="566" y1="334" x2="520.55" y2="412.72" stroke="#b4b4b4" stroke-width="0.7" />
<circle cx="566.0" cy="334.0" r="90.9" fill="none" stroke="#2a2a2a" stroke-width="0.65"/>
<polygon points="567.05,334 546.37,299.99 557.87,348.08" fill="#dfc0df" stroke="#800080" stroke-width="1.3" stroke-linejoin="round"/>
<circle cx="567.05" cy="334" r="2.5" fill="#800080"/>
<circle cx="546.37" cy="299.99" r="2.5" fill="#800080"/>
<circle cx="557.87" cy="348.08" r="2.5" fill="#800080"/>
<text x="583.2" y="325.74" font-size="7.0" text-anchor="start" fill="#1a1a1a" stroke="#1a1a1a" stroke-width="0.2" >0.2</text>
<text x="599.99" y="318.79" font-size="7.0" text-anchor="start" fill="#1a1a1a" stroke="#1a1a1a" stroke-width="0.2" >0.4</text>
<text x="616.79" y="311.83" font-size="7.0" text-anchor="start" fill="#1a1a1a" stroke="#1a1a1a" stroke-width="0.2" >0.6</text>
<text x="633.58" y="304.87" font-size="7.0" text-anchor="start" fill="#1a1a1a" stroke="#1a1a1a" stroke-width="0.2" >0.8</text>
<text x="650.38" y="297.91" font-size="7.0" text-anchor="start" fill="#1a1a1a" stroke="#1a1a1a" stroke-width="0.2" >1.0</text>
<text x="665.9" y="331.8" font-size="6.85" text-anchor="middle" fill="#1a1a1a" stroke="#1a1a1a" stroke-width="0.2" >Layout</text>
<text x="665.9" y="339.8" font-size="6.85" text-anchor="middle" fill="#1a1a1a" stroke="#1a1a1a" stroke-width="0.2" >Compliance</text>
<text x="515.9" y="245.7" font-size="6.85" text-anchor="middle" fill="#1a1a1a" stroke="#1a1a1a" stroke-width="0.2" >Stitch</text>
<text x="515.9" y="252.6" font-size="6.85" text-anchor="middle" fill="#1a1a1a" stroke="#1a1a1a" stroke-width="0.2" >Compliance</text>
<text x="515.8" y="418.3" font-size="6.85" text-anchor="middle" fill="#1a1a1a" stroke="#1a1a1a" stroke-width="0.2" >Overall</text>
<text x="515.8" y="425.6" font-size="6.85" text-anchor="middle" fill="#1a1a1a" stroke="#1a1a1a" stroke-width="0.2" textLength="17.2" lengthAdjust="spacingAndGlyphs" >Score</text>
<text x="566" y="236.8" font-size="8.4" text-anchor="middle" fill="#1a1a1a" stroke="#1a1a1a" stroke-width="0.2" textLength="133.1" lengthAdjust="spacingAndGlyphs" >Soft Constraints Performance Radar</text>
<text transform="translate(481.13,238.7) scale(1.162,1)" font-size="17" fill="#000" stroke="#000" stroke-width="0.5">f</text></svg>
</body></html>
